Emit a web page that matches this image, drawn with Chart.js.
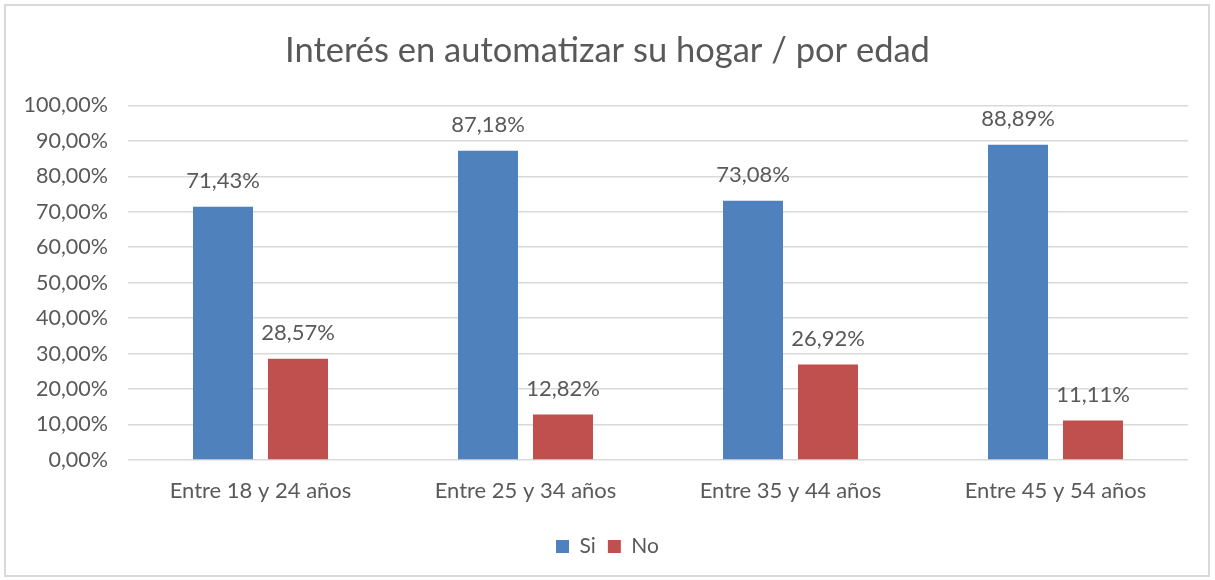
<!DOCTYPE html>
<html>
<head>
<meta charset="utf-8">
<script src="https://cdn.jsdelivr.net/npm/chart.js@4"></script>
<style>
html,body{margin:0;padding:0;background:#fff;}
#wrap{width:1215px;height:580px;position:relative;}
</style>
</head>
<body>
<div id="wrap"><canvas id="c" width="1215" height="580"></canvas></div>
<script>
const categories = ["Entre 18 y 24 años", "Entre 25 y 34 años", "Entre 35 y 44 años", "Entre 45 y 54 años"];
const siValues = [71.43, 87.18, 73.08, 88.89];
const noValues = [28.57, 12.82, 26.92, 11.11];
const yTicks = [0, 10, 20, 30, 40, 50, 60, 70, 80, 90, 100];
const seriesNames = ["Si", "No"];
const titleText = "Interés en automatizar su hogar / por edad";

const FONT = "Lato, 'Open Sans', sans-serif";
const TXT = "#595959";
const fmt = v => v.toFixed(2).replace('.', ',') + '%';

const borderPlugin = {
  id: 'outerBorder',
  beforeDraw(chart) {
    const ctx = chart.ctx;
    ctx.save();
    ctx.fillStyle = '#fff';
    ctx.fillRect(0, 0, chart.width, chart.height);
    ctx.strokeStyle = '#D9D9D9';
    ctx.lineWidth = 2;
    ctx.strokeRect(5, 5, 1204, 571);
    ctx.restore();
  }
};

const labelPlugin = {
  id: 'valueLabels',
  afterDatasetsDraw(chart) {
    const ctx = chart.ctx;
    ctx.save();
    ctx.font = "22px " + FONT;
    ctx.fillStyle = TXT;
    ctx.textAlign = 'center';
    ctx.textBaseline = 'middle';
    chart.data.datasets.forEach((ds, i) => {
      chart.getDatasetMeta(i).data.forEach((bar, j) => {
        ctx.fillText(fmt(ds.data[j]), bar.x, bar.y - 26);
      });
    });
    ctx.restore();
  }
};

new Chart(document.getElementById('c'), {
  type: 'bar',
  data: {
    labels: categories,
    datasets: [
      { label: seriesNames[0], data: siValues, backgroundColor: '#4F81BD', borderWidth: 0 },
      { label: seriesNames[1], data: noValues, backgroundColor: '#C0504D', borderWidth: 0 }
    ]
  },
  options: {
    responsive: false,
    animation: false,
    devicePixelRatio: 1,
    layout: { padding: { left: 0, right: 0, top: 10, bottom: 13 } },
    datasets: { bar: { categoryPercentage: 0.566, barPercentage: 0.8 } },
    scales: {
      x: {
        grid: { display: false, drawTicks: false },
        border: { display: false },
        ticks: { color: TXT, font: { family: FONT, size: 22 }, padding: 18, maxRotation: 0 },
        afterFit(s) { s.height = 64; }
      },
      y: {
        min: 0, max: 100,
        afterBuildTicks(s) { s.ticks = yTicks.map(v => ({ value: v })); },
        grid: { color: '#D9D9D9', lineWidth: 1.5, drawTicks: false },
        border: { display: false },
        ticks: { color: TXT, font: { family: FONT, size: 21.5 }, padding: 20, callback: v => fmt(v) },
        afterFit(s) { s.width = 128; }
      },
      yR: {
        position: 'right',
        display: true,
        grid: { display: false, drawTicks: false },
        border: { display: false },
        ticks: { display: false },
        afterFit(s) { s.width = 27; }
      }
    },
    plugins: {
      title: {
        display: true, text: titleText, color: TXT,
        font: { family: FONT, size: 34.5, weight: 'normal' },
        padding: { top: 20, bottom: 34 }
      },
      legend: {
        position: 'bottom',
        labels: { color: TXT, font: { family: FONT, size: 21 }, boxWidth: 13, boxHeight: 13, padding: 12 }
      },
      tooltip: { enabled: false }
    }
  },
  plugins: [borderPlugin, labelPlugin]
});
</script>
</body>
</html>
